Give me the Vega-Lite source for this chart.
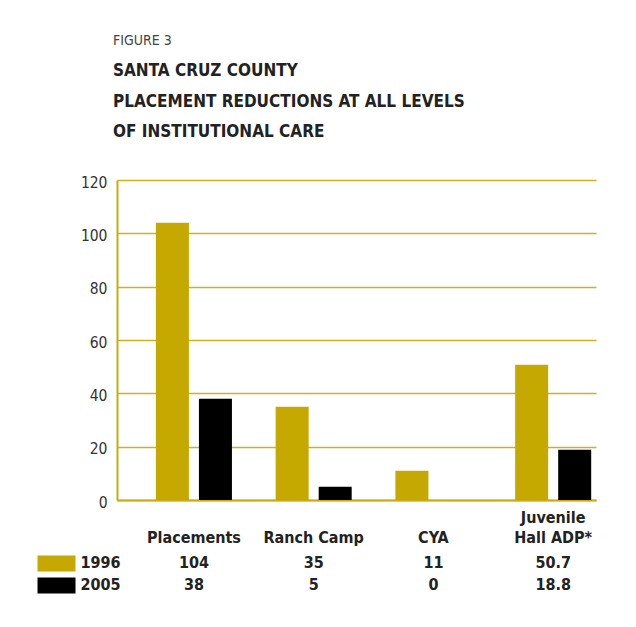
{
  "$schema": "https://vega.github.io/schema/vega-lite/v6.json",
  "background": "white",
  "padding": {"left": 29, "top": 34, "right": 5, "bottom": 5},
  "title": {
    "text": "FIGURE 3",
    "subtitle": ["SANTA CRUZ COUNTY", "PLACEMENT REDUCTIONS AT ALL LEVELS", "OF INSTITUTIONAL CARE"],
    "anchor": "start",
    "font": "DejaVu Sans Condensed, sans-serif",
    "fontSize": 14,
    "fontWeight": "normal",
    "color": "#444444",
    "subtitleFont": "DejaVu Sans Condensed, sans-serif",
    "subtitleFontSize": 17,
    "subtitleFontWeight": "bold",
    "subtitleColor": "#222222",
    "subtitleLineHeight": 30.5,
    "subtitlePadding": 15,
    "offset": 35,
    "dx": 84
  },
  "datasets": {
    "placements": [
      {"category": "Placements", "year": "1996", "value": 104},
      {"category": "Placements", "year": "2005", "value": 38},
      {"category": "Ranch Camp", "year": "1996", "value": 35},
      {"category": "Ranch Camp", "year": "2005", "value": 5},
      {"category": "CYA", "year": "1996", "value": 11},
      {"category": "CYA", "year": "2005", "value": 0},
      {"category": "Juvenile Hall ADP*", "year": "1996", "value": 50.7},
      {"category": "Juvenile Hall ADP*", "year": "2005", "value": 18.8}
    ]
  },
  "bounds": "flush",
  "spacing": 52,
  "vconcat": [
    {
      "width": 479,
      "height": 320,
      "data": {"name": "placements"},
      "mark": {"type": "bar"},
      "encoding": {
        "x": {
          "field": "category",
          "type": "nominal",
          "sort": ["Placements", "Ranch Camp", "CYA", "Juvenile Hall ADP*"],
          "scale": {"type": "band", "paddingInner": 0.365, "paddingOuter": 0.1825, "align": 0.89},
          "axis": {
            "title": null,
            "ticks": false,
            "labelAngle": 0,
            "labelFont": "DejaVu Sans Condensed, sans-serif",
            "labelFontSize": 16,
            "labelFontWeight": "bold",
            "labelColor": "#222222",
            "labelBaseline": "middle",
            "labelLineHeight": 20,
            "labelPadding": 17,
            "labelExpr": "datum.label == 'Juvenile Hall ADP*' ? ['Juvenile', 'Hall ADP*'] : ['', datum.label]",
            "domainColor": "#c8ab12",
            "domainWidth": 2,
            "grid": false
          }
        },
        "xOffset": {
          "field": "year",
          "type": "nominal",
          "sort": ["1996", "2005"],
          "scale": {"paddingInner": 0.233, "paddingOuter": 0}
        },
        "y": {
          "field": "value",
          "type": "quantitative",
          "scale": {"domain": [0, 120], "nice": false},
          "axis": {
            "title": null,
            "values": [0, 20, 40, 60, 80, 100, 120],
            "ticks": false,
            "labelFont": "DejaVu Sans Condensed, sans-serif",
            "labelFontSize": 15.5,
            "labelColor": "#333333",
            "labelPadding": 10,
            "labelOffset": 2,
            "domainColor": "#c8ab12",
            "domainWidth": 2,
            "grid": true,
            "gridColor": "#cbb224",
            "gridWidth": 1.5
          }
        },
        "color": {
          "field": "year",
          "type": "nominal",
          "scale": {"domain": ["1996", "2005"], "range": ["#c5a900", "#000000"]},
          "legend": null
        }
      }
    },
    {
      "width": 479,
      "height": 44,
      "data": {"name": "placements"},
      "mark": {
        "type": "text",
        "font": "DejaVu Sans Condensed, sans-serif",
        "fontSize": 16,
        "fontWeight": "bold",
        "color": "#222222",
        "baseline": "middle",
        "align": "center"
      },
      "encoding": {
        "x": {
          "field": "category",
          "type": "nominal",
          "sort": ["Placements", "Ranch Camp", "CYA", "Juvenile Hall ADP*"],
          "scale": {"type": "band", "paddingInner": 0.365, "paddingOuter": 0.1825, "align": 0.89},
          "axis": null
        },
        "y": {
          "field": "year",
          "type": "nominal",
          "sort": ["1996", "2005"],
          "scale": {"type": "band", "paddingInner": 0, "paddingOuter": 0},
          "axis": {
            "title": null,
            "domain": false,
            "grid": false,
            "offset": 42,
            "bandPosition": 0.5,
            "tickSize": 38,
            "tickWidth": 16,
            "tickCap": "butt",
            "tickColor": {"condition": {"test": "datum.value == '1996'", "value": "#c5a900"}, "value": "#000000"},
            "labelAlign": "left",
            "labelPadding": -43,
            "labelBound": false,
            "labelFont": "DejaVu Sans Condensed, sans-serif",
            "labelFontSize": 16,
            "labelFontWeight": "bold",
            "labelColor": "#222222",
            "labelBaseline": "middle"
          }
        },
        "text": {"field": "value", "type": "quantitative"}
      }
    }
  ],
  "config": {
    "view": {"stroke": null},
    "font": "DejaVu Sans Condensed, sans-serif"
  }
}
